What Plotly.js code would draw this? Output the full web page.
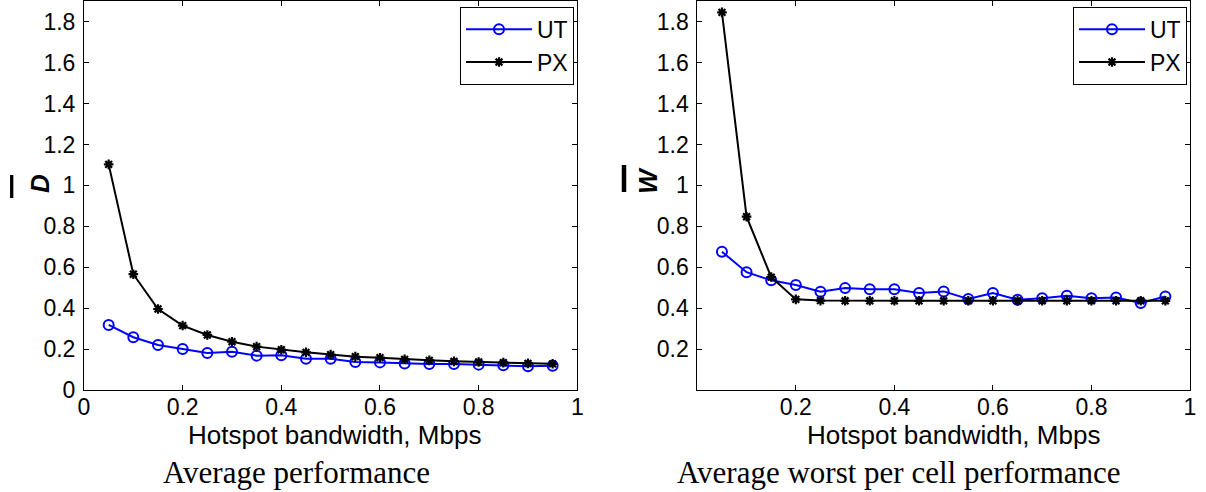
<!DOCTYPE html>
<html>
<head>
<meta charset="utf-8">
<script src="https://cdn.plot.ly/plotly-3.0.1.min.js"></script>
<style>
  html, body { margin: 0; padding: 0; background: #fff; }
  #chart { width: 1206px; height: 492px; }
</style>
</head>
<body>
<div id="chart"></div>
<script>
// ---- data ----
const bandwidth = [0.05, 0.10, 0.15, 0.20, 0.25, 0.30, 0.35, 0.40, 0.45, 0.50,
                   0.55, 0.60, 0.65, 0.70, 0.75, 0.80, 0.85, 0.90, 0.95];

// Average performance (D bar)
const avgUT = [0.318, 0.258, 0.220, 0.200, 0.181, 0.187, 0.168, 0.170, 0.153, 0.153,
               0.137, 0.135, 0.130, 0.127, 0.127, 0.124, 0.121, 0.116, 0.119];
const avgPX = [1.103, 0.566, 0.396, 0.315, 0.269, 0.236, 0.212, 0.197, 0.184, 0.173,
               0.163, 0.158, 0.150, 0.145, 0.140, 0.137, 0.134, 0.130, 0.128];

// Average worst per cell performance (W bar)
const worstUT = [0.676, 0.576, 0.536, 0.513, 0.480, 0.498, 0.492, 0.492, 0.474, 0.482,
                 0.445, 0.474, 0.441, 0.448, 0.461, 0.449, 0.452, 0.425, 0.457];
const worstPX = [1.846, 0.847, 0.552, 0.443, 0.437, 0.436, 0.436, 0.436, 0.436, 0.436,
                 0.436, 0.436, 0.436, 0.436, 0.436, 0.436, 0.436, 0.436, 0.436];

const seriesNames = ['UT', 'PX'];
const xTitle = 'Hotspot bandwidth, Mbps';
const captions = ['Average performance', 'Average worst per cell performance'];
const yTitles = ['<b><i>D</i></b>', '<b><i>W</i></b>'];

const leftXTicks = [0, 0.2, 0.4, 0.6, 0.8, 1];
const leftYTicks = [0, 0.2, 0.4, 0.6, 0.8, 1, 1.2, 1.4, 1.6, 1.8];
const rightXTicks = [0.2, 0.4, 0.6, 0.8, 1];
const rightYTicks = [0.2, 0.4, 0.6, 0.8, 1, 1.2, 1.4, 1.6, 1.8];

// ---- styling ----
const W = 1206, H = 492;
const SANS = 'Liberation Sans, Arial, Helvetica, sans-serif';
const SERIF = 'Liberation Serif, Times New Roman, serif';
const BLUE = '#0000ff';

function px(x) { return x / W; }
function py(y) { return 1 - y / H; }

const utStyle = {
  mode: 'lines+markers',
  line: { color: BLUE, width: 2 },
  marker: { symbol: 'circle-open', size: 10, color: BLUE, line: { color: BLUE, width: 2 } }
};
const pxStyle = {
  mode: 'lines+markers',
  line: { color: '#000', width: 2 },
  marker: { symbol: 'asterisk-open', size: 8, color: '#000', line: { color: '#000', width: 2.2 } }
};

const traces = [
  Object.assign({ x: bandwidth, y: avgUT, name: seriesNames[0], xaxis: 'x', yaxis: 'y', legend: 'legend' }, utStyle),
  Object.assign({ x: bandwidth, y: avgPX, name: seriesNames[1], xaxis: 'x', yaxis: 'y', legend: 'legend' }, pxStyle),
  Object.assign({ x: bandwidth, y: worstUT, name: seriesNames[0], xaxis: 'x2', yaxis: 'y2', legend: 'legend2' }, utStyle),
  Object.assign({ x: bandwidth, y: worstPX, name: seriesNames[1], xaxis: 'x2', yaxis: 'y2', legend: 'legend2' }, pxStyle)
];

function axisBase() {
  return {
    showline: true, linecolor: '#000', linewidth: 1, mirror: 'ticks',
    ticks: 'inside', ticklen: 5, tickcolor: '#000', tickwidth: 1,
    showgrid: false, zeroline: false,
    tickfont: { family: SANS, size: 23, color: '#000' },
    fixedrange: true
  };
}

const xDomL = [px(84), px(577.3)];
const xDomR = [px(697.3), px(1190)];
const yDom = [py(390), py(1.3)];

const xaxis = Object.assign(axisBase(), {
  domain: xDomL, anchor: 'y', range: [0, 1], tickmode: 'array', tickvals: leftXTicks,
  ticklabelstandoff: -4
});
const yaxis = Object.assign(axisBase(), {
  domain: yDom, anchor: 'x', range: [0, 1.9], tickmode: 'array', tickvals: leftYTicks,
  ticklabelstandoff: 3
});
const xaxis2 = Object.assign(axisBase(), {
  domain: xDomR, anchor: 'y2', range: [0, 1], tickmode: 'array', tickvals: rightXTicks,
  ticklabelstandoff: -4
});
const yaxis2 = Object.assign(axisBase(), {
  domain: yDom, anchor: 'x2', range: [0, 1.9], tickmode: 'array', tickvals: rightYTicks,
  ticklabelstandoff: 3
});

function legendBox(rightPx) {
  return {
    x: px(rightPx), xanchor: 'right', y: py(6.7), yanchor: 'top',
    bordercolor: '#000', borderwidth: 1, bgcolor: '#fff',
    font: { family: SANS, size: 23, color: '#000' },
    tracegroupgap: 0, itemwidth: 66
  };
}

function textAnn(text, xPx, yPx, font, angle) {
  return { text: text, xref: 'paper', yref: 'paper', x: px(xPx), y: py(yPx),
    xanchor: 'center', yanchor: 'middle', textangle: angle || 0, showarrow: false, font: font };
}

const yTitleFont = { family: SANS, size: 26, color: '#000' };
const xTitleFont = { family: SANS, size: 26, color: '#000' };
const captionFont = { family: SERIF, size: 31, color: '#000' };

const layout = {
  width: W, height: H,
  margin: { l: 0, r: 0, t: 0, b: 0, pad: 0 },
  paper_bgcolor: '#fff', plot_bgcolor: '#fff',
  showlegend: true,
  legend: legendBox(574),
  legend2: legendBox(1187),
  xaxis: xaxis, yaxis: yaxis, xaxis2: xaxis2, yaxis2: yaxis2,
  shapes: [
    // overbars of the y-axis symbols (part of the axis label)
    { type: 'line', xref: 'paper', yref: 'paper', x0: px(11.7), x1: px(11.7), y0: py(175), y1: py(198),
      line: { color: '#000', width: 3.3 } },
    { type: 'line', xref: 'paper', yref: 'paper', x0: px(624), x1: px(624), y0: py(165), y1: py(192),
      line: { color: '#000', width: 4.5 } }
  ],
  annotations: [
    textAnn(yTitles[0], 40, 184, yTitleFont, -90),
    textAnn(yTitles[1], 648, 181, yTitleFont, -90),
    textAnn(xTitle, 334.5, 435, xTitleFont),
    textAnn(xTitle, 953, 435, xTitleFont),
    textAnn(captions[0], 296.5, 472, captionFont),
    textAnn(captions[1], 899, 472, captionFont)
  ]
};

Plotly.newPlot('chart', traces, layout, { staticPlot: true, displayModeBar: false });
</script>
</body>
</html>
